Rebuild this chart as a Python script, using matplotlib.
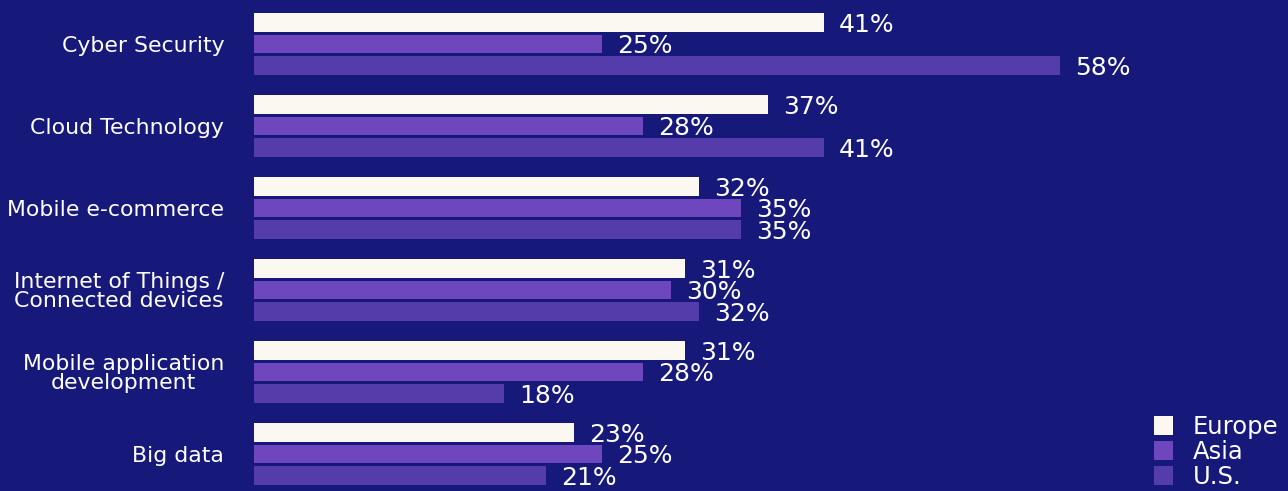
import matplotlib
matplotlib.use("Agg")
import matplotlib.pyplot as plt
import numpy as np

# Data
categories = ["Cyber Security", "Cloud Technology", "Mobile e-commerce",
              "Internet of Things /\nConnected devices",
              "Mobile application\ndevelopment", "Big data"]
europe = [41, 37, 32, 31, 31, 23]
asia = [25, 28, 35, 30, 28, 25]
us = [58, 41, 35, 32, 18, 21]
series_names = ["Europe", "Asia", "U.S."]

bg = "#16187a"
colors = ["#faf8f0", "#6e46be", "#553cab"]

plt.rcParams["font.family"] = ["DejaVu Sans"]

fig = plt.figure(figsize=(12.88, 4.91), dpi=100, facecolor=bg)
ax = fig.add_axes([254 / 1288, 0, 1 - 254 / 1288, 1])
ax.set_facecolor(bg)

y = np.arange(len(categories))
offset = 0.262
height = 0.225

handles = []
for k, (vals, col, name) in enumerate(zip([europe, asia, us], colors, series_names)):
    pos = y + (k - 1) * offset
    b = ax.barh(pos, vals, height=height, color=col, label=name)
    handles.append(b)
    for p, v in zip(pos, vals):
        ax.text(v + 1.1, p + 0.03, f"{v}%", color="white", fontsize=18,
                va="center", ha="left")

ax.set_xlim(0, (1288 - 254) / 13.9)
ax.set_ylim(5.451, -0.537)

ax.set_yticks(y)
ax.set_yticklabels(categories, fontsize=15.8, color="white",
                   multialignment="center", linespacing=0.95)
ax.tick_params(axis="y", length=0, pad=21.5)
ax.set_xticks([])
for s in ax.spines.values():
    s.set_visible(False)

leg = fig.legend(handles=handles, labels=series_names, loc="lower right",
                 bbox_to_anchor=(1.0, -0.016), frameon=False, fontsize=17.5,
                 labelcolor="white", handlelength=0.8, handleheight=0.8,
                 labelspacing=0.05, handletextpad=0.8, borderaxespad=0.0)

fig.savefig("out.png", dpi=100, facecolor=bg)
